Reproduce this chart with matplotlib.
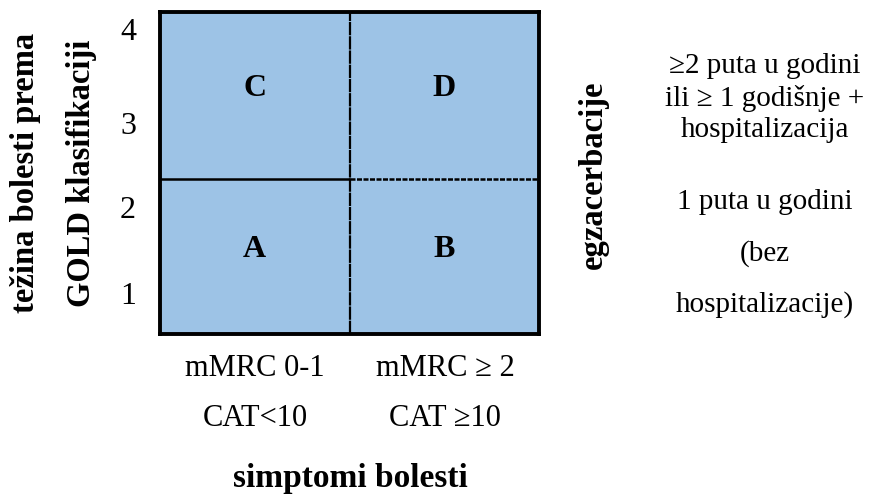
import matplotlib.pyplot as plt

# Data
cell_labels = ["A", "B", "C", "D"]
cell_cols = [0, 1, 0, 1]
cell_rows = [0, 0, 1, 1]
row_edges = [0, 1.93, 4]
tick_labels = ["1", "2", "3", "4"]
x_labels_top = ["mMRC 0-1", "mMRC \u2265 2"]
x_labels_bottom = ["CAT<10", "CAT \u226510"]
right_lines = ["\u22652 puta u godini", "ili \u2265 1 godi\u0161nje +", "hospitalizacija",
               "1 puta u godini", "(bez", "hospitalizacije)"]

FILL = "#9dc3e6"
W, H = 877, 495

plt.rcParams['font.family'] = ['Liberation Serif', 'DejaVu Serif']

fig = plt.figure(figsize=(W / 100, H / 100), dpi=100)
ax = fig.add_axes([160 / W, 1 - 334 / H, 379 / W, 322 / H])


def px(x, y):
    return x / W, 1 - y / H


# cells
bottoms = [row_edges[r] for r in cell_rows]
heights = [row_edges[r + 1] - row_edges[r] for r in cell_rows]
ax.bar(cell_cols, heights, bottom=bottoms, width=1, align='edge', color=FILL, edgecolor='none')
for lab, c, b, h in zip(cell_labels, cell_cols, bottoms, heights):
    ax.text(c + 0.5, b + h / 2 + 0.09, lab, ha='center', va='center', fontsize=23,
            fontweight='bold')

# dividers
mid = row_edges[1]
ax.plot([0, 1], [mid, mid], color='black', lw=1.8, solid_capstyle='butt')
ax.plot([1, 2], [mid, mid], color='black', lw=1.8, ls=(0, (2, 0.6)))
ax.plot([1, 1], [0, 4], color='black', lw=1.6, ls=(0, (6, 0.4)))

ax.set_xlim(0, 2)
ax.set_ylim(0, 4)
ax.set_xticks([])
ax.set_yticks([])
for s in ax.spines.values():
    s.set_linewidth(2.8)

# left tick labels
tick_y = [297, 210, 126, 33]
for t, y in zip(tick_labels, tick_y):
    fig.text(*px(128, y), t, ha='center', va='center', fontsize=23)

# left axis titles
fig.text(*px(26, 173), "te\u017eina bolesti prema", rotation=90, ha='center', va='center',
         fontsize=23.5, fontweight='bold')
fig.text(*px(82, 173), "GOLD klasifikaciji", rotation=90, ha='center', va='center',
         fontsize=23.5, fontweight='bold')

# bottom labels
for top, bot, x in zip(x_labels_top, x_labels_bottom, [255, 445]):
    fig.text(*px(x, 369), top, ha='center', va='center', fontsize=22)
    fig.text(*px(x, 418), bot, ha='center', va='center', fontsize=22)
fig.text(*px(350, 479), "simptomi bolesti", ha='center', va='center', fontsize=24,
         fontweight='bold')

# right side
fig.text(*px(593, 175), "egzacerbacije", rotation=90, ha='center', va='center',
         fontsize=23.5, fontweight='bold')
right_y = [66, 99, 130, 202, 254, 305]
for lab, y in zip(right_lines, right_y):
    fig.text(*px(765, y), lab, ha='center', va='center', fontsize=21)

fig.savefig("out.png", dpi=100)
